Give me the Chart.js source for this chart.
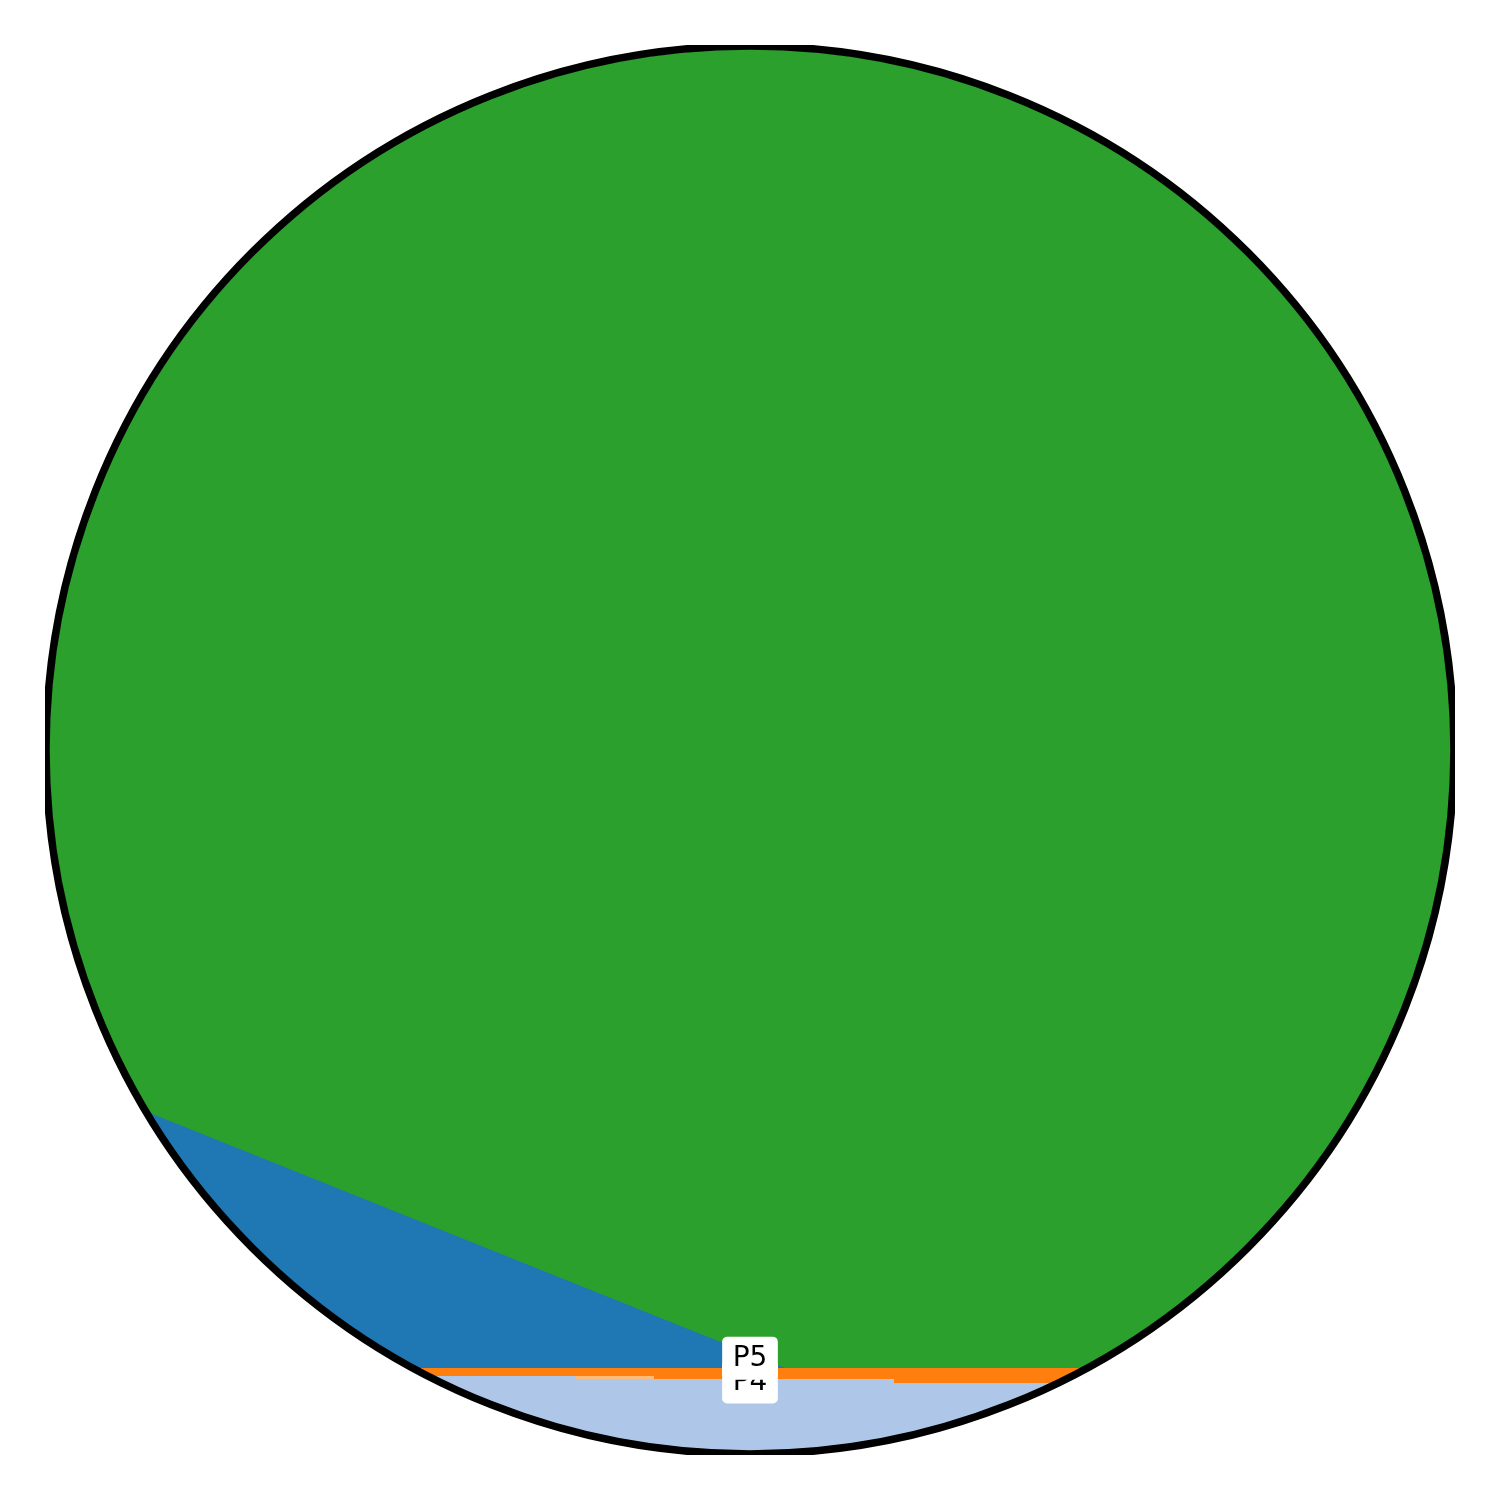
<!DOCTYPE html>
<html>
<head>
<meta charset="utf-8">
<style>
  html, body { margin: 0; padding: 0; background: #ffffff; }
  #wrap { width: 1500px; height: 1500px; }
</style>
<script src="https://cdn.jsdelivr.net/npm/chart.js@4"></script>
</head>
<body>
<div id="wrap"><canvas id="c" width="1500" height="1500"></canvas></div>
<script>
// Categories and colours (tab20 order)
const categories = ['P1', 'P2', 'P3', 'P4', 'P5'];
const colors = ['#1f77b4', '#aec7e8', '#ff7f0e', '#ffbb78', '#2ca02c'];

// Region boundaries (unit-circle coordinates)
const p5X = [-1.1, 1.1];
const p5Y = [-1.1, -1.1];               // P5 fills everything above
const p1X = [-1.1, 0.0504];
const p1Y = [-0.421, -0.883];           // P1 upper boundary (diagonal)
const p3X = [-1.1, 1.1];
const p3Y = [-0.883, -0.883];           // P3 upper boundary
const p4X = [-0.2486, -0.1371];
const p4Y = [-0.8943, -0.8943];         // P4 upper boundary
const p2X = [-1.1, -0.2486, 0.2057, 1.1];
const p2Y = [-0.8943, -0.8986, -0.9043, -0.9043]; // P2 upper boundary (steps)

// Label anchors
const labelNames = ['P4', 'P5'];
const labelX = [0, 0];
const labelY = [-0.9136, -0.8796];

const pts = (xs, ys) => xs.map((x, i) => ({ x: x, y: ys[i] }));

function ds(name, xs, ys, color, fill, order, stepped) {
  return {
    label: name,
    data: pts(xs, ys),
    borderWidth: 0,
    borderColor: color,
    backgroundColor: color,
    pointRadius: 0,
    fill: fill,
    order: order,
    stepped: stepped || false,
    tension: 0
  };
}

const LIM = 705 / 700;
const R_FILL = 701;
const R_RING = 704;

const circlePlugin = {
  id: 'circleClip',
  beforeDatasetsDraw(chart) {
    const ctx = chart.ctx;
    const sx = chart.scales.x, sy = chart.scales.y;
    const cx = sx.getPixelForValue(0), cy = sy.getPixelForValue(0);
    const r = (sx.getPixelForValue(1) - cx) * R_FILL / 700;
    ctx.save();
    ctx.beginPath();
    ctx.arc(cx, cy, r, 0, Math.PI * 2);
    ctx.clip();
  },
  afterDatasetsDraw(chart) {
    const ctx = chart.ctx;
    ctx.restore();
    const sx = chart.scales.x, sy = chart.scales.y;
    const ca = chart.chartArea;
    const cx = sx.getPixelForValue(0), cy = sy.getPixelForValue(0);
    const r = (sx.getPixelForValue(1) - cx) * R_RING / 700;
    ctx.save();
    ctx.beginPath();
    ctx.rect(ca.left, ca.top, ca.right - ca.left, ca.bottom - ca.top);
    ctx.clip();
    ctx.beginPath();
    ctx.arc(cx, cy, r, 0, Math.PI * 2);
    ctx.lineWidth = 7.5;
    ctx.strokeStyle = '#000000';
    ctx.stroke();
    ctx.restore();
  },
  afterDraw(chart) {
    const ctx = chart.ctx;
    const sx = chart.scales.x, sy = chart.scales.y;
    ctx.save();
    ctx.font = '28px "DejaVu Sans"';
    ctx.textAlign = 'center';
    ctx.textBaseline = 'alphabetic';
    labelNames.forEach((name, i) => {
      const x = sx.getPixelForValue(labelX[i]);
      const y = sy.getPixelForValue(labelY[i]);
      const w = ctx.measureText(name).width;
      const bx = x - w / 2 - 10.5, by = y - 29, bw = w + 21, bh = 43;
      ctx.fillStyle = '#ffffff';
      ctx.beginPath();
      ctx.roundRect(bx, by, bw, bh, 5);
      ctx.fill();
      ctx.fillStyle = '#000000';
      ctx.fillText(name, x, y);
    });
    ctx.restore();
  }
};

new Chart(document.getElementById('c'), {
  type: 'line',
  data: {
    datasets: [
      ds(categories[4], p5X, p5Y, colors[4], 'end', 5),
      ds(categories[0], p1X, p1Y, colors[0], 'start', 4),
      ds(categories[2], p3X, p3Y, colors[2], 'start', 3),
      ds(categories[3], p4X, p4Y, colors[3], 'start', 2),
      ds(categories[1], p2X, p2Y, colors[1], 'start', 1, 'before')
    ]
  },
  options: {
    responsive: false,
    animation: false,
    events: [],
    layout: { padding: 45 },
    scales: {
      x: { type: 'linear', min: -LIM, max: LIM, display: false },
      y: { type: 'linear', min: -LIM, max: LIM, display: false }
    },
    plugins: {
      legend: { display: false },
      tooltip: { enabled: false },
      filler: { propagate: false }
    }
  },
  plugins: [circlePlugin]
});
</script>
</body>
</html>
